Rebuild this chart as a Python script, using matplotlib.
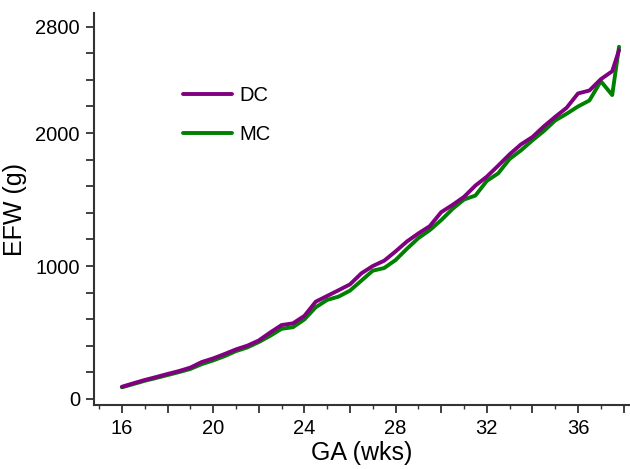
import matplotlib
import matplotlib.pyplot as plt
from matplotlib.ticker import MultipleLocator, FixedLocator, FuncFormatter

matplotlib.rcParams["font.family"] = ["Liberation Sans", "DejaVu Sans"]
plt.switch_backend("agg")

# gestational age (weeks)
GA = [16.0, 16.5, 17.0, 17.5, 18.0, 18.5, 19.0, 19.5, 20.0, 20.5, 21.0, 21.5,
      22.0, 22.5, 23.0, 23.5, 24.0, 24.5, 25.0, 25.5, 26.0, 26.5, 27.0, 27.5,
      28.0, 28.5, 29.0, 29.5, 30.0, 30.5, 31.0, 31.5, 32.0, 32.5, 33.0, 33.5,
      34.0, 34.5, 35.0, 35.5, 36.0, 36.5, 37.0, 37.5, 37.8]

# estimated fetal weight (g)
EFW_DC = [92, 118, 143, 165, 188, 210, 236, 278, 305, 338, 373, 401,
          440, 500, 556, 569, 625, 732, 775, 818, 862, 945, 1000, 1040,
          1110, 1185, 1245, 1300, 1405, 1460, 1520, 1605, 1672, 1755, 1840, 1915,
          1970, 2050, 2122, 2190, 2298, 2320, 2405, 2465, 2624]
EFW_MC = [88, 112, 137, 158, 180, 202, 226, 262, 290, 322, 360, 388,
          428, 475, 528, 540, 598, 690, 745, 770, 815, 890, 965, 985,
          1045, 1130, 1210, 1270, 1345, 1430, 1500, 1530, 1640, 1697, 1805, 1870,
          1945, 2015, 2095, 2145, 2200, 2245, 2390, 2286, 2649]

X_LABELS = [16, 20, 24, 28, 32, 36]
Y_LABELS = [0, 1000, 2000, 2800]

fig = plt.figure(figsize=(6.3, 4.69), dpi=100)
ax = fig.add_axes([0.149, 0.1365, 0.851, 0.8355])

ax.plot(GA, EFW_DC, color="#800080", linewidth=2.8, label="DC", zorder=3,
        solid_joinstyle="round", solid_capstyle="round")
ax.plot(GA, EFW_MC, color="#008000", linewidth=2.8, label="MC", zorder=2,
        solid_joinstyle="round", solid_capstyle="round")

ax.set_xlim(14.77, 38.28)
ax.set_ylim(-45, 2902)

for side in ["top", "right"]:
    ax.spines[side].set_visible(False)
for side in ["left", "bottom"]:
    ax.spines[side].set_color("#333333")
    ax.spines[side].set_linewidth(1.5)

# x: ticks every 2 wks, labels every 4, small ticks every week
ax.xaxis.set_major_locator(MultipleLocator(2))
ax.xaxis.set_minor_locator(MultipleLocator(1))
ax.xaxis.set_major_formatter(
    FuncFormatter(lambda v, p: f"{int(round(v))}" if int(round(v)) in X_LABELS else "")
)
# y: ticks every 200 g, only some labelled
ax.yaxis.set_major_locator(FixedLocator(range(0, 2801, 200)))
ax.yaxis.set_major_formatter(
    FuncFormatter(lambda v, p: f"{int(round(v))}" if int(round(v)) in Y_LABELS else "")
)

ax.tick_params(axis="both", which="major", direction="out", length=6, width=1.3,
               color="#333333", labelsize=14.5, pad=4)
ax.tick_params(axis="x", which="minor", direction="out", length=3, width=1.0,
               color="#333333")

ax.set_xlabel("GA (wks)", fontsize=18, labelpad=2)
ax.set_ylabel("EFW (g)", fontsize=18, labelpad=6)

ax.legend(loc="upper left", bbox_to_anchor=(0.166, 0.815), frameon=False,
          fontsize=14.5, handlelength=2.45, handletextpad=0.35,
          labelspacing=1.0, borderpad=0, borderaxespad=0)

fig.savefig("out.png", dpi=100, facecolor="white")
